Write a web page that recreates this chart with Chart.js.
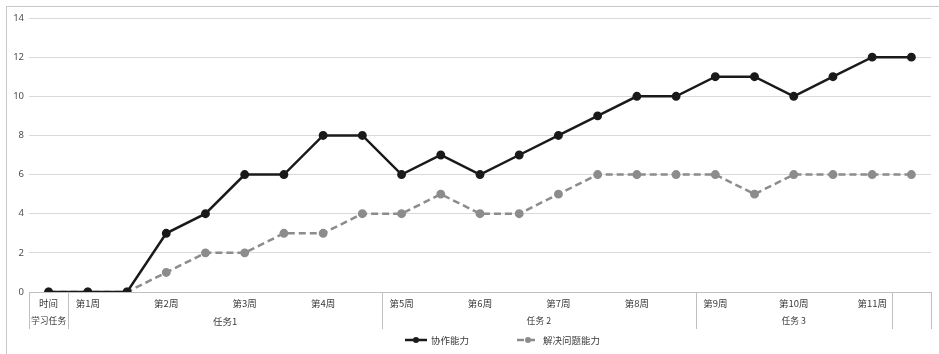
<!DOCTYPE html>
<html>
<head>
<meta charset="utf-8">
<script src="https://cdn.jsdelivr.net/npm/chart.js@4/dist/chart.umd.min.js"></script>
<style>
  html, body { margin: 0; padding: 0; background: #fff; }
  #wrap { width: 939px; height: 354px; }
</style>
</head>
<body>
<div id="wrap"><canvas id="chart" width="939" height="354"></canvas></div>
<script>
// 数据
const weekLabels = ['时间', '第1周', '', '第2周', '', '第3周', '', '第4周', '', '第5周', '', '第6周', '',
  '第7周', '', '第8周', '', '第9周', '', '第10周', '', '第11周', ''];
const taskLabels = ['学习任务', '任务1', '任务 2', '任务 3', ''];
const taskSpans = [1, 8, 8, 5, 1];
const cooperation = [0, 0, 0, 3, 4, 6, 6, 8, 8, 6, 7, 6, 7, 8, 9, 10, 10, 11, 11, 10, 11, 12, 12];
const problemSolving = [0, 0, 0, 1, 2, 2, 3, 3, 4, 4, 5, 4, 4, 5, 6, 6, 6, 6, 5, 6, 6, 6, 6];
const yTicks = [0, 2, 4, 6, 8, 10, 12, 14];

const CJK = '"Noto Sans CJK SC", "Noto Sans", sans-serif';
const lineColor = '#bfbfbf';
const textColor = '#3a3a3a';

// 表格式的分类轴 + 图例
const tablePlugin = {
  id: 'tableAxis',
  afterDraw(chart) {
    const { ctx, chartArea } = chart;
    const x = chart.scales.x;
    const top = chartArea.bottom;
    const bottom = top + 37;
    const step = x.getPixelForValue(1) - x.getPixelForValue(0);

    ctx.save();
    // 外框
    ctx.strokeStyle = '#c8c8c8';
    ctx.lineWidth = 1;
    ctx.strokeRect(6.5, 6.5, 960, 400);

    ctx.font = '9.5px ' + CJK;
    ctx.fillStyle = textColor;
    ctx.textAlign = 'center';
    ctx.textBaseline = 'middle';

    // 第一行：周
    weekLabels.forEach((lab, i) => {
      if (lab) ctx.fillText(lab, x.getPixelForValue(i), top + 11);
    });

    // 第二行：任务 + 分隔线
    ctx.strokeStyle = lineColor;
    let start = 0;
    const edge = v => Math.round(x.getPixelForValue(v) - step / 2) + 0.5;
    ctx.beginPath();
    ctx.moveTo(edge(0), top);
    ctx.lineTo(edge(0), bottom);
    ctx.stroke();
    taskSpans.forEach((span, k) => {
      const l = x.getPixelForValue(start) - step / 2;
      const r = l + span * step;
      const lab = taskLabels[k];
      if (lab) {
        ctx.font = (lab.length > 3 ? '8.8px ' : '9.5px ') + CJK;
        ctx.fillText(lab, (l + r) / 2, top + 29);
      }
      const rx = edge(start + span);
      ctx.beginPath();
      ctx.moveTo(rx, top);
      ctx.lineTo(rx, bottom);
      ctx.stroke();
      start += span;
    });

    // 图例
    ctx.font = '9.5px ' + CJK;
    const ly = 340;
    chart.data.datasets.forEach((ds, i) => {
      const lx = [405, 517][i];
      ctx.strokeStyle = ds.borderColor;
      ctx.lineWidth = 2.5;
      ctx.setLineDash(ds.borderDash || []);
      ctx.beginPath();
      ctx.moveTo(lx, ly);
      ctx.lineTo(lx + 22, ly);
      ctx.stroke();
      ctx.setLineDash([]);
      ctx.fillStyle = ds.pointBackgroundColor;
      ctx.beginPath();
      ctx.arc(lx + 11, ly, 3, 0, Math.PI * 2);
      ctx.fill();
      ctx.fillStyle = textColor;
      ctx.textAlign = 'left';
      ctx.fillText(ds.label, lx + 26, ly);
    });
    ctx.restore();
  }
};

new Chart(document.getElementById('chart'), {
  type: 'line',
  data: {
    labels: weekLabels,
    datasets: [
      {
        label: '协作能力',
        data: cooperation,
        borderColor: '#1a1a1a',
        backgroundColor: '#1a1a1a',
        pointBackgroundColor: '#1a1a1a',
        pointBorderColor: '#1a1a1a',
        borderWidth: 2.5,
        pointRadius: 3.2,
        tension: 0
      },
      {
        label: '解决问题能力',
        data: problemSolving,
        borderColor: '#8c8c8c',
        backgroundColor: '#8c8c8c',
        pointBackgroundColor: '#8c8c8c',
        pointBorderColor: '#8c8c8c',
        borderWidth: 2.5,
        borderDash: [7, 4],
        pointRadius: 3.2,
        tension: 0
      }
    ]
  },
  options: {
    responsive: false,
    animation: false,
    layout: { padding: { left: 6, right: 8, top: 18, bottom: 22 } },
    plugins: {
      legend: { display: false },
      tooltip: { enabled: false }
    },
    scales: {
      x: {
        offset: true,
        grid: { display: false, drawTicks: false },
        border: { display: true, color: lineColor, width: 1 },
        ticks: { display: false },
        afterFit: s => { s.height = 40; }
      },
      y: {
        min: 0,
        max: 14,
        afterBuildTicks: s => { s.ticks = yTicks.map(v => ({ value: v })); },
        grid: { color: '#d9d9d9', lineWidth: 1, drawTicks: false },
        border: { display: false },
        ticks: { color: '#4d4d4d', font: { size: 9.5, family: 'Noto Sans, sans-serif' }, padding: 5 },
        afterFit: s => { s.width = 23; }
      }
    }
  },
  plugins: [tablePlugin]
});
</script>
</body>
</html>
